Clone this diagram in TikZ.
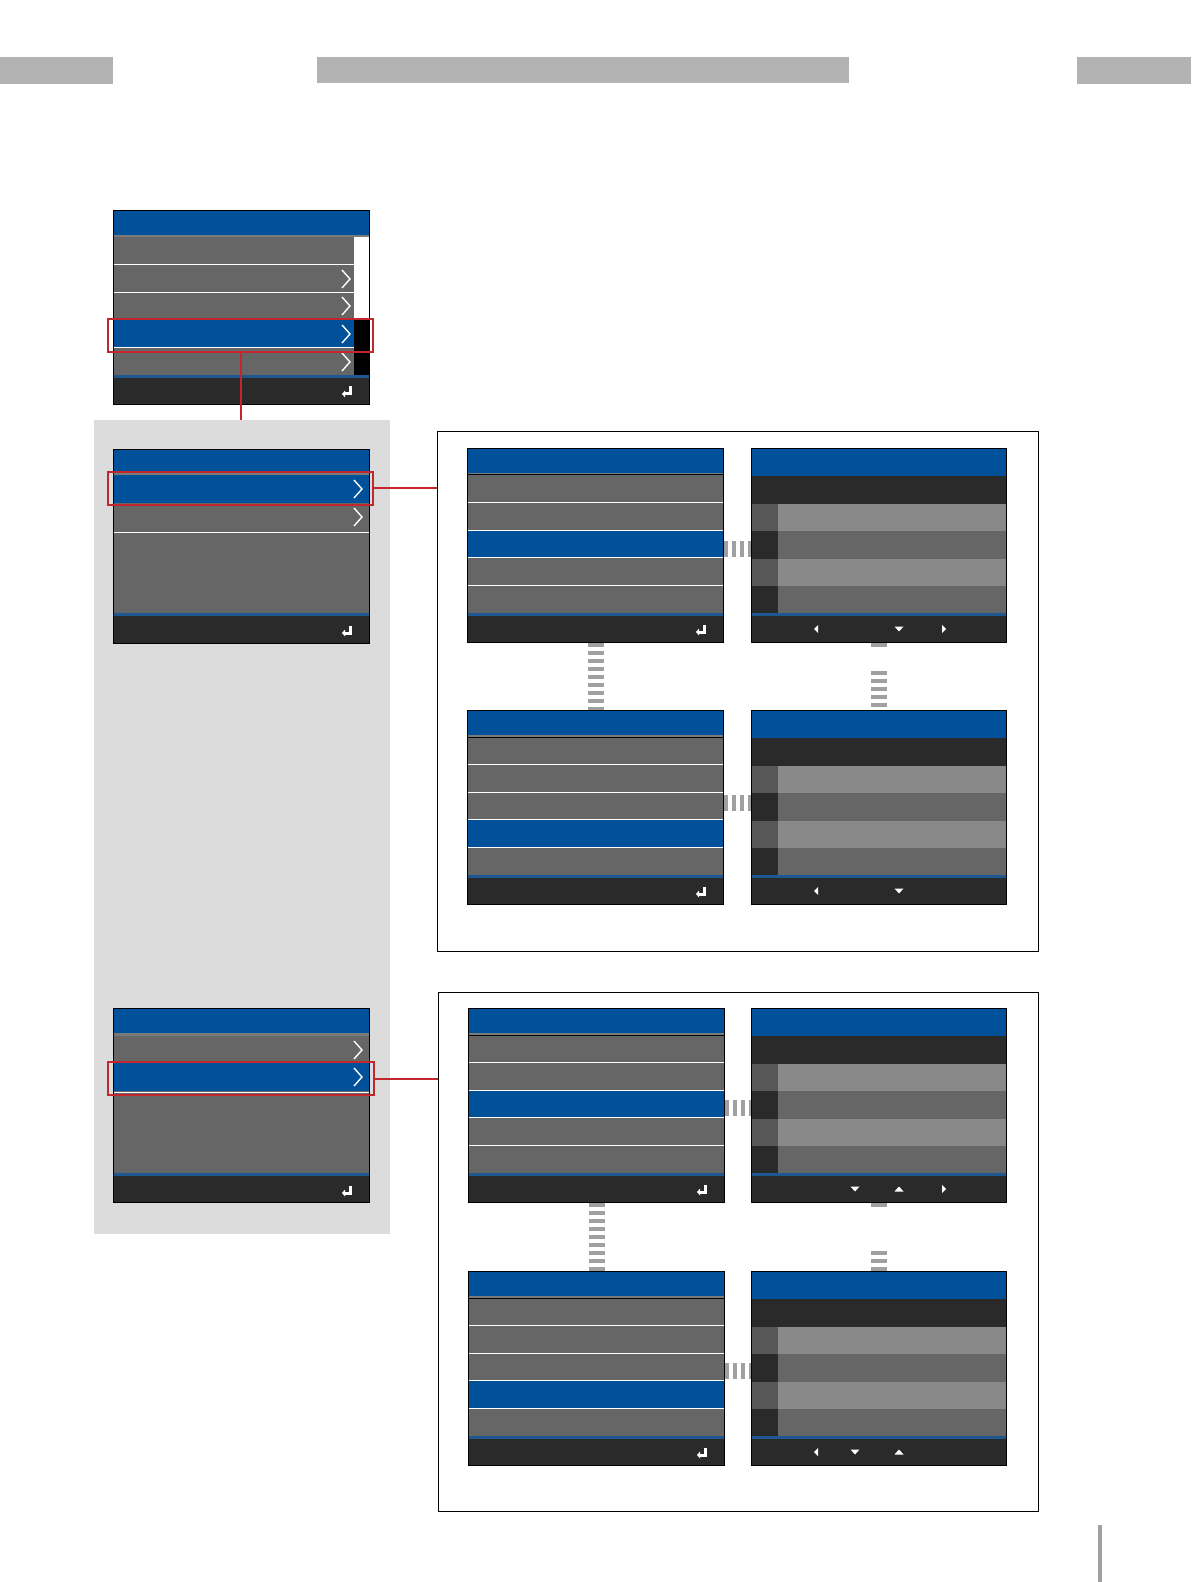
\documentclass[tikz,border=0pt]{standalone}
\usetikzlibrary{calc,positioning}
\definecolor{scrBlue}{HTML}{00509A}
\definecolor{lineBlue}{HTML}{1E5891}
\definecolor{rowGray}{HTML}{666666}
\definecolor{stripGray}{HTML}{7A7A7A}
\definecolor{darkBar}{HTML}{2A2A2A}
\definecolor{cellLight}{HTML}{898989}
\definecolor{cellLeft}{HTML}{575757}
\definecolor{panelGray}{HTML}{DCDCDC}
\definecolor{barGray}{HTML}{B3B3B3}
\definecolor{dashGray}{HTML}{A0A0A0}
\definecolor{hlRed}{HTML}{C1272D}
\tikzset{
  screen/.style={draw=black, line width=0.7pt, minimum width=128pt, minimum height=97pt, inner sep=0pt, anchor=north west},
  panel/.style={fill=panelGray, minimum width=148pt, minimum height=407pt, inner sep=0pt},
  frame/.style={draw=black, line width=0.5pt, minimum height=259.5pt, inner sep=0pt},
  hlbox/.style={draw=hlRed, line width=1pt, minimum width=132.5pt, minimum height=16.5pt, inner sep=0pt},
  hlline/.style={draw=hlRed, line width=1pt},
  rowsep/.style={draw=white, line width=0.5pt},
  vlink/.style={draw=dashGray, line width=8pt, dash pattern=on 1.75pt off 2.25pt},
  hlink/.style={draw=dashGray, line width=8pt, dash pattern=on 2pt off 2pt},
  chev/.pic={\draw[white, line width=0.7pt] (-4,-9) -- (4,0) -- (-4,9);},
  enterkey/.pic={\fill[white] (1.5,-4.5) rectangle (4.5,4.5);
    \fill[white] (-2,1.5) rectangle (4.5,4.5);
    \fill[white] (-5,3) -- (-2,-0.5) -- (-2,6.5) -- cycle;},
  leftkey/.pic={\fill[white] (-2,0) -- (2,-4) -- (2,4) -- cycle;},
  rightkey/.pic={\fill[white] (2,0) -- (-2,-4) -- (-2,4) -- cycle;},
  downkey/.pic={\fill[white] (-4.5,-2.5) -- (4.5,-2.5) -- (0,2.5) -- cycle;},
  upkey/.pic={\fill[white] (-4.5,2.5) -- (4.5,2.5) -- (0,-2.5) -- cycle;},
}
\begin{document}
\begin{tikzpicture}[x=0.5pt,y=-0.5pt]
  \useasboundingbox (0,0) rectangle (1191,1582);

  % page header bars
  \fill[barGray] (0,57) rectangle (113,84);
  \fill[barGray] (317,57) rectangle (849,83);
  \fill[barGray] (1077,57) rectangle (1191,84);
  \fill[dashGray] (1098,1525) rectangle (1102,1582);

  % grey panel and the two frames
  \node[panel] (grp) at (242,827) {};
  \node[frame, minimum width=300.5pt] (fr1) at (737.5,691.5) {};
  \node[frame, minimum width=300pt] (fr2) at (738,1251.5) {};

  % main menu
  \fill[scrBlue] (113,210) rectangle (369,235);
  \fill[stripGray] (113,235) rectangle (369,237);
  \fill[rowGray] (113,237) rectangle (354,375);
  \fill[scrBlue] (113,320) rectangle (354,348);
  \foreach \r in {265,293,348} \draw[rowsep] (113,\r) -- (354,\r);
  \fill[white] (354,237) rectangle (369,318);
  \fill[black] (354,318) rectangle (369,375);
  \fill[lineBlue] (113,375) rectangle (369,378);
  \fill[darkBar] (113,378) rectangle (369,404);
  \foreach \r in {279,306,334,362} \pic at (346,\r) {chev};
  \pic at (347,391) {enterkey};
  \node[screen] (s1) at (113,210) {};

  % submenu, first entry
  \fill[scrBlue] (113,449) rectangle (369,473);
  \fill[stripGray] (113,473) rectangle (369,475);
  \fill[rowGray] (113,475) rectangle (369,613);
  \fill[scrBlue] (113,475) rectangle (369,503);
  \draw[rowsep] (113,532) -- (369,532);
  \fill[lineBlue] (113,613) rectangle (369,616);
  \fill[darkBar] (113,616) rectangle (369,643);
  \pic at (358,489) {chev};
  \pic at (358,517) {chev};
  \pic at (347,630) {enterkey};
  \node[screen] (s2) at (113,449) {};

  % submenu, second entry
  \fill[scrBlue] (113,1008) rectangle (369,1033);
  \fill[stripGray] (113,1033) rectangle (369,1036);
  \fill[rowGray] (113,1036) rectangle (369,1173);
  \fill[scrBlue] (113,1063) rectangle (369,1091);
  \draw[rowsep] (113,1092) -- (369,1092);
  \fill[lineBlue] (113,1173) rectangle (369,1176);
  \fill[darkBar] (113,1176) rectangle (369,1202);
  \pic at (358,1050) {chev};
  \pic at (358,1077) {chev};
  \pic at (347,1190) {enterkey};
  \node[screen] (s3) at (113,1008) {};

  % list screens
  \foreach \nm/\x/\y/\sel in {sA/467/448/3, sC/467/710/4, sE/468/1008/3, sG/468/1271/4}{
    \fill[scrBlue] (\x,\y) rectangle ++(256,25);
    \fill[stripGray] (\x,\y+25) rectangle ++(256,2);
    \fill[rowGray] (\x,\y+27) rectangle ++(256,138);
    \fill[scrBlue] (\x,{\y+27+(\sel-1)*27.6}) rectangle ++(256,27.6);
    \draw[black, line width=0.5pt] (\x,\y+27) -- ++(256,0);
    \foreach \k in {1,...,4} \draw[rowsep] (\x,{\y+27+\k*27.6}) -- ++(256,0);
    \fill[lineBlue] (\x,\y+165) rectangle ++(256,3);
    \fill[darkBar] (\x,\y+168) rectangle ++(256,26);
    \pic at (\x+234,\y+181) {enterkey};
    \node[screen] (\nm) at (\x,\y) {};
  }

  % value screens
  \foreach \nm/\x/\y in {sB/751/448, sD/751/710, sF/751/1008, sH/751/1271}{
    \fill[scrBlue] (\x,\y) rectangle ++(255,28);
    \fill[darkBar] (\x,\y+28) rectangle ++(255,28);
    \foreach \k/\cl/\cc in {0/cellLight/cellLeft, 1/rowGray/darkBar, 2/cellLight/cellLeft, 3/rowGray/darkBar}{
      \fill[\cc] (\x,{\y+56+\k*27.25}) rectangle ++(27,27.25);
      \fill[\cl] (\x+27,{\y+56+\k*27.25}) rectangle ++(228,27.25);
    }
    \fill[lineBlue] (\x,\y+165) rectangle ++(255,3);
    \fill[darkBar] (\x,\y+168) rectangle ++(255,26);
    \node[screen, minimum width=127.5pt] (\nm) at (\x,\y) {};
  }

  % footer keys
  \pic at (816,629) {leftkey};
  \pic at (899,629) {downkey};
  \pic at (944,629) {rightkey};
  \pic at (816,891) {leftkey};
  \pic at (899,891) {downkey};
  \pic at (855,1189) {downkey};
  \pic at (899,1189) {upkey};
  \pic at (944,1189) {rightkey};
  \pic at (816,1452) {leftkey};
  \pic at (855,1452) {downkey};
  \pic at (899,1452) {upkey};

  % links between screens
  \draw[vlink] (sA.south) -- (sC.north);
  \draw[vlink] (sE.south) -- (sG.north);
  \coordinate (gapB) at ($(sB.south)+(0,6)$);
  \coordinate (gapD) at ($(sD.north)+(0,-39)$);
  \coordinate (gapF) at ($(sF.south)+(0,6)$);
  \coordinate (gapH) at ($(sH.north)+(0,-20)$);
  \draw[vlink] (sB.south) -- (gapB);
  \draw[vlink] (gapD) -- (sD.north);
  \draw[vlink] (sF.south) -- (gapF);
  \draw[vlink] (gapH) -- (sH.north);
  \draw[hlink] ([yshift=-1.5pt]sA.east) -- ([yshift=-1.5pt]sB.west);
  \draw[hlink] ([yshift=2.5pt]sC.east) -- ([yshift=2.5pt]sD.west);
  \draw[hlink] ([yshift=-1pt]sE.east) -- ([yshift=-1pt]sF.west);
  \draw[hlink] ([yshift=-1pt]sG.east) -- ([yshift=-1pt]sH.west);

  % highlighted entries
  \node[hlbox] (hl1) at (240.5,335.5) {};
  \node[hlbox] (hl2) at (240.5,488.5) {};
  \node[hlbox, minimum width=133pt] (hl3) at (241,1078.5) {};
  \draw[hlline] (hl1.south) -- (hl1.south |- grp.north);
  \draw[hlline] (hl2.east) -- (hl2.east -| fr1.west);
  \draw[hlline] (hl3.east) -- (hl3.east -| fr2.west);
\end{tikzpicture}
\end{document}
